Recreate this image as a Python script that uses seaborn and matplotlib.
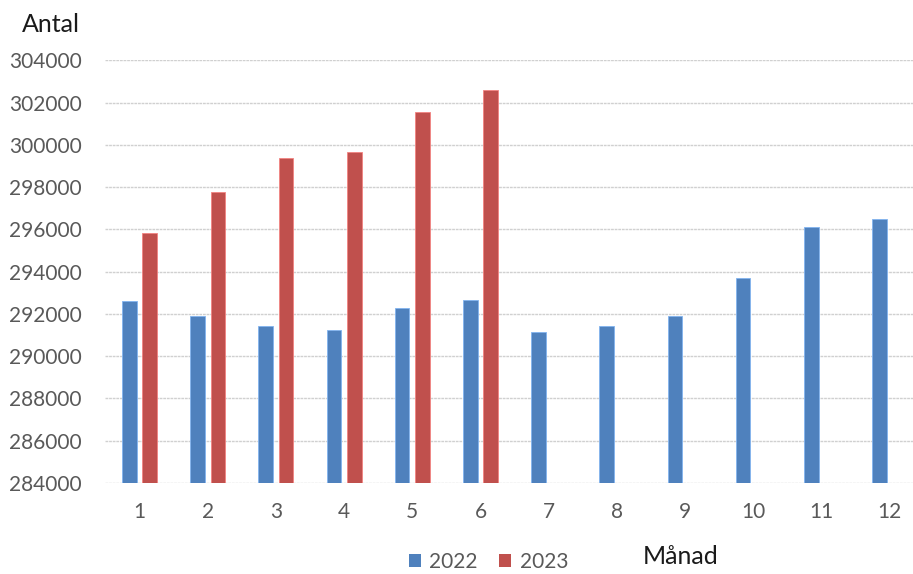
import matplotlib
matplotlib.use("Agg")
import matplotlib.pyplot as plt
import seaborn as sns
import pandas as pd
import numpy as np

months = [1, 2, 3, 4, 5, 6, 7, 8, 9, 10, 11, 12]
values_2022 = [292590, 291915, 291430, 291250, 292280, 292660,
               291130, 291430, 291920, 293680, 296110, 296470]
values_2023 = [295850, 297790, 299370, 299680, 301550, 302590,
               np.nan, np.nan, np.nan, np.nan, np.nan, np.nan]
years = ["2022", "2023"]
colors = ["#4F81BD", "#C0504D"]
yticks = list(range(284000, 304001, 2000))

df = pd.DataFrame({
    "Månad": months * 2,
    "Antal": values_2022 + values_2023,
    "År": [years[0]] * 12 + [years[1]] * 12,
})

sns.set_theme(style="white")
plt.rcParams["font.family"] = ["Lato", "DejaVu Sans"]

fig = plt.figure(figsize=(9.13, 5.74), dpi=100)
ax = fig.add_axes([105.4 / 913, 91 / 574, 818.4 / 913, 422.7 / 574])

sns.barplot(data=df, x="Månad", y="Antal", hue="År", hue_order=years,
            palette=colors, saturation=1, width=0.6, gap=0.29, ax=ax,
            linewidth=0.6, legend=False, zorder=3)
# lighter edges per series
for patch in ax.patches:
    fc = patch.get_facecolor()
    patch.set_edgecolor(tuple(min(1, c + 0.2) for c in fc[:3]) + (1,))

ax.set_ylim(284000, 304000)
ax.set_yticks(yticks)
ax.set_yticklabels([str(v) for v in yticks])
ax.set_xlim(-0.5, 11.5)
ax.yaxis.grid(True, color="#D0D0D0", linewidth=1.0, linestyle=(0, (2, 0.6)), zorder=0)
ax.xaxis.grid(False)
for s in ax.spines.values():
    s.set_visible(False)
ax.tick_params(axis="y", length=0, pad=17, labelsize=15, labelcolor="#595959")
ax.tick_params(axis="x", length=0, pad=14, labelsize=15, labelcolor="#595959")
ax.set_xlabel("")
ax.set_ylabel("")

fig.text(22 / 913, 1 - 25 / 574, "Antal", fontsize=18, color="#1a1a1a",
         ha="left", va="center")
fig.text(681 / 913, 1 - 557 / 574, "Månad", fontsize=18, color="#1a1a1a",
         ha="center", va="center")

handles = [plt.Rectangle((0, 0), 1, 1, facecolor=c, edgecolor="none") for c in colors]
fig.legend(handles, years, loc="center left", bbox_to_anchor=(396 / 913, 1 - 562 / 574),
           ncol=2, frameon=False, fontsize=15, labelcolor="#595959",
           handlelength=0.6, handleheight=0.6, handletextpad=0.4, columnspacing=1.0,
           borderpad=0.1)

fig.savefig("out.png", dpi=100)
